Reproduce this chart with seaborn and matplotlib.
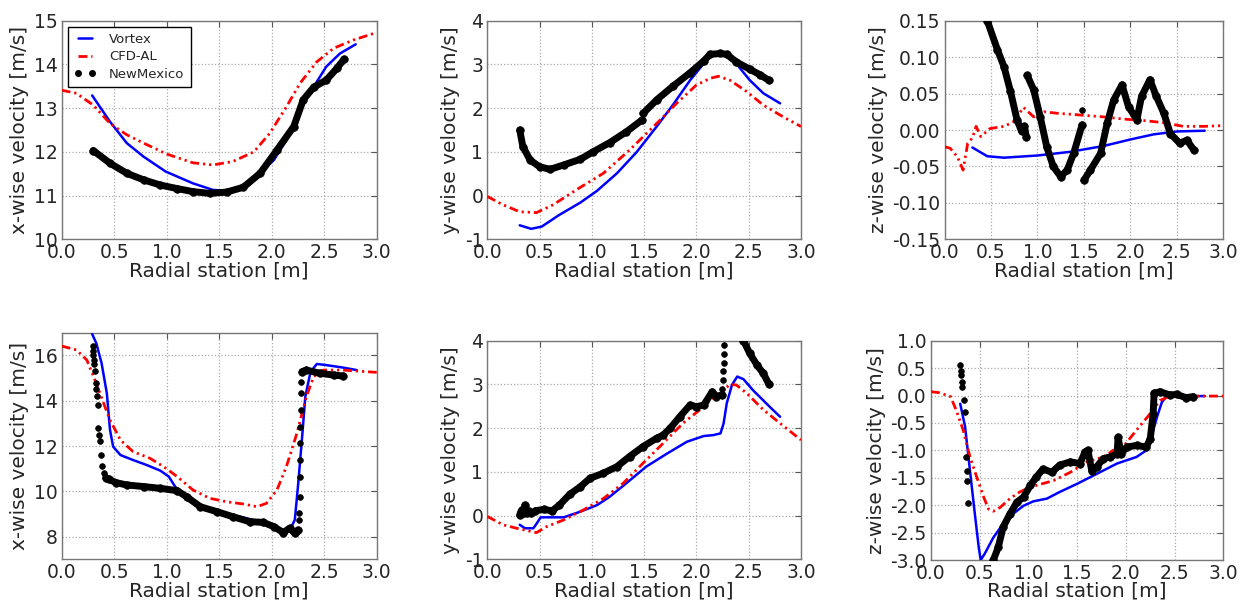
import numpy as np
import pandas as pd
import seaborn as sns
import matplotlib
matplotlib.use("Agg")
import matplotlib.pyplot as plt
from matplotlib.lines import Line2D
from matplotlib.ticker import FormatStrFormatter, MultipleLocator

# ---------------- data ----------------
series_names = ["Vortex", "CFD-AL", "NewMexico"]
xlabel_text = "Radial station [m]"
ylabel_texts = ["x-wise velocity [m/s]", "y-wise velocity [m/s]", "z-wise velocity [m/s]"] * 2

# Panel 1 (top-left)
vx1 = [0.29, 0.46, 0.62, 0.78, 0.99, 1.25, 1.44, 1.57, 1.76, 2.02, 2.14, 2.27, 2.40, 2.52, 2.65, 2.80]
vy1 = [13.29, 12.69, 12.2, 11.89, 11.55, 11.28, 11.13, 11.11, 11.23, 11.81, 12.27, 12.96, 13.49, 13.95, 14.25, 14.46]
cx1 = [0, 0.14, 0.30, 0.46, 0.62, 0.78, 1.0, 1.25, 1.44, 1.63, 1.83, 1.98, 2.14, 2.27, 2.43, 2.59, 2.78, 3.0]
cy1 = [13.41, 13.34, 13.07, 12.65, 12.39, 12.2, 11.95, 11.75, 11.70, 11.78, 12.0, 12.42, 13.03, 13.57, 14.06, 14.37, 14.56, 14.73]
nm1_segs = [
    ([0.30, 0.46, 0.62, 0.78, 0.94, 1.10, 1.25, 1.41, 1.57, 1.73, 1.89, 2.05, 2.21, 2.30, 2.40, 2.52, 2.62, 2.69],
     [12.03, 11.74, 11.51, 11.36, 11.24, 11.16, 11.09, 11.05, 11.08, 11.19, 11.51, 12.04, 12.58, 13.19, 13.48, 13.64, 13.91, 14.12]),
]
nm1_pts = ([], [])

# Panel 2 (top-middle)
vx2 = [0.31, 0.42, 0.52, 0.69, 0.89, 1.05, 1.24, 1.43, 1.62, 1.78, 1.94, 2.07, 2.16, 2.26, 2.38, 2.51, 2.64, 2.80]
vy2 = [-0.68, -0.76, -0.71, -0.44, -0.16, 0.11, 0.51, 1.0, 1.58, 2.09, 2.64, 3.02, 3.23, 3.24, 3.02, 2.64, 2.34, 2.11]
cx2 = [0, 0.15, 0.31, 0.47, 0.63, 0.85, 1.11, 1.36, 1.62, 1.81, 2.0, 2.13, 2.21, 2.32, 2.48, 2.64, 2.83, 3.0]
cy2 = [-0.02, -0.21, -0.37, -0.39, -0.21, 0.13, 0.51, 1.04, 1.65, 2.11, 2.53, 2.68, 2.73, 2.64, 2.38, 2.07, 1.80, 1.58]
nm2_segs = [
    ([0.31, 0.34, 0.41, 0.50, 0.60, 0.73, 0.89, 1.01, 1.17, 1.33, 1.48],
     [1.5, 1.12, 0.81, 0.66, 0.60, 0.70, 0.83, 1.0, 1.21, 1.46, 1.73]),
    ([1.49, 1.62, 1.78, 1.94, 2.07, 2.13, 2.23, 2.29, 2.38, 2.51, 2.61, 2.69],
     [1.88, 2.19, 2.51, 2.81, 3.08, 3.23, 3.25, 3.23, 3.06, 2.89, 2.76, 2.64]),
]
nm2_pts = ([], [])

# Panel 3 (top-right)
vx3 = [0.30, 0.46, 0.64, 1.0, 1.35, 1.71, 2.0, 2.25, 2.50, 2.80]
vy3 = [-0.024, -0.036, -0.038, -0.035, -0.030, -0.022, -0.013, -0.006, -0.002, -0.001]
cx3 = [0, 0.06, 0.14, 0.20, 0.25, 0.30, 0.34, 0.39, 0.49, 0.64, 0.74, 0.85, 0.96, 1.07, 1.21, 1.42, 1.71, 1.93, 2.14, 2.36, 2.57, 2.79, 3.0]
cy3 = [-0.023, -0.025, -0.037, -0.055, -0.018, -0.011, 0.005, -0.009, 0.002, 0.005, 0.011, 0.031, 0.018, 0.025, 0.023, 0.021, 0.018, 0.015, 0.013, 0.010, 0.005, 0.005, 0.006]
nm3_segs = [
    ([0.42, 0.46, 0.57, 0.64, 0.71, 0.78, 0.83, 0.86, 0.88],
     [0.17, 0.15, 0.110, 0.087, 0.053, 0.014, -0.002, 0.005, -0.009]),
    ([0.89, 0.96, 1.03, 1.10, 1.17, 1.25, 1.32, 1.39, 1.48],
     [0.075, 0.055, 0.018, -0.023, -0.050, -0.064, -0.055, -0.032, 0.007]),
    ([1.50, 1.57, 1.68, 1.75, 1.82, 1.91, 1.98, 2.07, 2.12, 2.21, 2.28, 2.36, 2.43, 2.53, 2.61, 2.68],
     [-0.069, -0.055, -0.032, 0.009, 0.041, 0.062, 0.032, 0.014, 0.046, 0.069, 0.046, 0.023, -0.005, -0.018, -0.014, -0.027]),
]
nm3_pts = ([1.48], [0.028])

# Panel 4 (bottom-left)
vx4 = [0.29, 0.33, 0.38, 0.43, 0.46, 0.49, 0.56, 0.68, 0.81, 0.94, 1.02, 1.08, 1.16, 1.32, 1.51, 1.70, 1.89, 2.05, 2.17, 2.22, 2.25, 2.29, 2.32, 2.37, 2.43, 2.52, 2.68, 2.81]
vy4 = [16.94, 16.53, 15.65, 14.32, 12.71, 11.97, 11.6, 11.38, 11.16, 10.91, 10.65, 10.21, 9.84, 9.40, 9.03, 8.88, 8.66, 8.37, 8.26, 8.74, 10.21, 12.41, 14.18, 15.28, 15.62, 15.57, 15.46, 15.35]
cx4 = [0, 0.14, 0.24, 0.33, 0.40, 0.46, 0.56, 0.68, 0.84, 0.97, 1.10, 1.25, 1.41, 1.57, 1.73, 1.86, 1.95, 2.05, 2.14, 2.24, 2.33, 2.40, 2.49, 2.68, 3.0]
cy4 = [16.41, 16.24, 15.79, 14.76, 13.88, 13.15, 12.26, 11.75, 11.46, 11.09, 10.65, 10.06, 9.69, 9.54, 9.44, 9.32, 9.47, 10.06, 11.09, 12.56, 14.18, 15.06, 15.35, 15.35, 15.25]
nm4_segs = [
    ([0.42, 0.45, 0.52, 0.62, 0.78, 0.94, 1.10, 1.19, 1.32, 1.48, 1.63, 1.79, 1.92, 2.02, 2.11, 2.17, 2.22, 2.25],
     [10.6, 10.53, 10.38, 10.28, 10.21, 10.13, 10.03, 9.76, 9.32, 9.10, 8.88, 8.66, 8.63, 8.44, 8.18, 8.37, 8.15, 8.29]),
    ([2.29, 2.33, 2.46, 2.59, 2.68],
     [15.28, 15.35, 15.21, 15.13, 15.09]),
]
nm4_pts = ([0.30, 0.30, 0.30, 0.305, 0.31, 0.315, 0.33, 0.33, 0.34, 0.345, 0.35, 0.355, 0.36, 0.37, 0.385, 0.40,
            2.26, 2.26, 2.265, 2.27, 2.27, 2.27, 2.27, 2.275, 2.28, 2.28],
           [16.4, 16.2, 16.0, 15.8, 15.6, 15.3, 14.8, 14.5, 14.2, 13.8, 12.8, 12.5, 12.2, 11.6, 11.1, 10.8,
            8.74, 9.03, 9.76, 10.65, 11.38, 12.12, 12.85, 13.59, 14.32, 14.84])

# Panel 5 (bottom-middle)
vx5 = [0.31, 0.36, 0.44, 0.47, 0.51, 0.60, 0.73, 0.89, 1.05, 1.17, 1.33, 1.52, 1.72, 1.91, 2.07, 2.16, 2.23, 2.26, 2.29, 2.34, 2.39, 2.45, 2.54, 2.70, 2.80]
vy5 = [-0.21, -0.29, -0.29, -0.19, -0.04, -0.04, -0.04, 0.09, 0.24, 0.43, 0.74, 1.12, 1.42, 1.69, 1.82, 1.84, 1.88, 2.11, 2.57, 2.99, 3.18, 3.12, 2.87, 2.49, 2.26]
cx5 = [0, 0.15, 0.28, 0.47, 0.57, 0.73, 0.92, 1.11, 1.30, 1.49, 1.68, 1.87, 2.07, 2.19, 2.32, 2.38, 2.48, 2.64, 2.80, 3.0]
cy5 = [-0.02, -0.21, -0.29, -0.39, -0.25, -0.10, 0.13, 0.39, 0.74, 1.2, 1.65, 2.11, 2.49, 2.76, 2.99, 2.99, 2.80, 2.42, 2.11, 1.73]
nm5_segs = [
    ([0.31, 0.32, 0.33, 0.35, 0.36, 0.37, 0.38, 0.40, 0.42],
     [0.01, 0.08, 0.13, 0.05, 0.24, 0.12, 0.07, 0.10, 0.07]),
    ([0.46, 0.54, 0.62, 0.69, 0.79, 0.89, 0.98, 1.11, 1.24, 1.36, 1.49, 1.62, 1.68, 1.75, 1.84, 1.94, 2.0, 2.07, 2.15, 2.19, 2.24],
     [0.11, 0.14, 0.11, 0.24, 0.49, 0.66, 0.85, 0.97, 1.12, 1.35, 1.58, 1.77, 1.84, 2.0, 2.26, 2.53, 2.49, 2.53, 2.83, 2.72, 2.76]),
    ([2.40, 2.45, 2.51, 2.58, 2.64, 2.69],
     [4.25, 4.0, 3.71, 3.44, 3.25, 3.02]),
]
nm5_pts = ([2.245, 2.25, 2.255, 2.26, 2.262, 2.265], [2.9, 3.1, 3.3, 3.5, 3.7, 3.9])

# Panel 6 (bottom-right)
vx6 = [0.30, 0.35, 0.40, 0.45, 0.49, 0.51, 0.55, 0.64, 0.74, 0.84, 0.95, 1.05, 1.19, 1.32, 1.50, 1.70, 1.91, 2.11, 2.21, 2.26, 2.32, 2.37, 2.42, 2.62, 2.81]
vy6 = [-0.15, -0.57, -1.37, -2.16, -2.77, -3.0, -2.89, -2.59, -2.34, -2.16, -2.01, -1.93, -1.88, -1.76, -1.61, -1.43, -1.24, -1.12, -1.0, -0.76, -0.39, -0.12, -0.01, -0.01, -0.01]
cx6 = [0, 0.09, 0.20, 0.26, 0.33, 0.40, 0.47, 0.54, 0.59, 0.64, 0.71, 0.81, 0.91, 1.02, 1.12, 1.26, 1.43, 1.60, 1.77, 1.87, 1.97, 2.11, 2.25, 2.35, 2.45, 3.0]
cy6 = [0.07, 0.05, -0.02, -0.27, -0.63, -1.12, -1.49, -1.85, -2.07, -2.11, -2.04, -1.88, -1.76, -1.67, -1.62, -1.55, -1.40, -1.21, -1.12, -1.0, -0.94, -0.63, -0.33, -0.09, -0.01, -0.01]
nm6_segs = [
    ([0.60, 0.64, 0.69, 0.74, 0.81, 0.88, 0.95, 1.02, 1.08, 1.15, 1.24, 1.32, 1.43, 1.53, 1.58, 1.61, 1.65, 1.70, 1.77, 1.84, 1.91, 1.92, 1.95, 2.01, 2.11, 2.21, 2.25, 2.28, 2.29, 2.35, 2.45, 2.52, 2.62, 2.69],
     [-3.4, -3.0, -2.77, -2.40, -2.16, -1.95, -1.85, -1.64, -1.49, -1.34, -1.40, -1.27, -1.21, -1.24, -1.03, -1.0, -1.37, -1.30, -1.15, -1.12, -1.06, -0.76, -1.06, -0.94, -0.91, -0.94, -0.79, -0.33, 0.04, 0.07, 0.01, 0.02, -0.04, -0.02]),
]
nm6_pts = ([0.30, 0.305, 0.31, 0.315, 0.32, 0.34, 0.35, 0.36, 0.37, 0.37, 0.375],
           [0.55, 0.45, 0.37, 0.25, 0.16, -0.09, -0.30, -1.12, -1.37, -1.55, -1.96])

panels = [
    (vx1, vy1, cx1, cy1, nm1_segs, nm1_pts),
    (vx2, vy2, cx2, cy2, nm2_segs, nm2_pts),
    (vx3, vy3, cx3, cy3, nm3_segs, nm3_pts),
    (vx4, vy4, cx4, cy4, nm4_segs, nm4_pts),
    (vx5, vy5, cx5, cy5, nm5_segs, nm5_pts),
    (vx6, vy6, cx6, cy6, nm6_segs, nm6_pts),
]
ylims = [(10, 15), (-1, 4), (-0.15, 0.15), (7, 17), (-1, 4), (-3, 1)]
ysteps = [1, 1, 0.05, 2, 1, 0.5]
yfmts = ["%d", "%d", "%.2f", "%d", "%d", "%.1f"]

# ---------------- style ----------------
sns.set_style("white")
plt.rcParams["font.family"] = ["DejaVu Sans"]
plt.rcParams["axes.unicode_minus"] = True

W, H = 1252, 608
fig = plt.figure(figsize=(W / 100, H / 100), dpi=100)
fig.patch.set_facecolor("white")

# axes boxes in pixels: left, top, right, bottom
boxes = [
    (61.7, 20.7, 376.7, 239.3),
    (487.3, 20.7, 801.0, 239.3),
    (944.5, 20.7, 1223.3, 239.3),
    (61.7, 332.7, 376.7, 559.3),
    (487.3, 340.7, 801.0, 559.3),
    (931.0, 340.7, 1223.3, 560.0),
]

blue = "#0000ff"
red = "#ff0000"
dashdotdot = (0, (3.2, 1.4, 0.8, 1.4, 0.8, 1.4))

for i, (box, pdata) in enumerate(zip(boxes, panels)):
    l, t, r, b = box
    ax = fig.add_axes([l / W, 1 - b / H, (r - l) / W, (b - t) / H])
    vx, vy, cx, cy, segs, pts = pdata

    sns.lineplot(x=vx, y=vy, ax=ax, color=blue, linewidth=1.8, sort=False,
                 estimator=None, zorder=3)
    sns.lineplot(x=cx, y=cy, ax=ax, color=red, linewidth=2.0, sort=False,
                 estimator=None, linestyle=dashdotdot, zorder=3)
    rows = []
    for k, (sx, sy) in enumerate(segs):
        for xx, yy in zip(sx, sy):
            rows.append((k, xx, yy))
    seg_df = pd.DataFrame(rows, columns=["seg", "x", "y"])
    sns.lineplot(data=seg_df, x="x", y="y", units="seg", estimator=None, sort=False,
                 ax=ax, color="k", linewidth=5.0, zorder=4,
                 solid_capstyle="round", solid_joinstyle="round")
    sns.scatterplot(data=seg_df, x="x", y="y", ax=ax, color="k", s=30,
                    edgecolor="k", linewidth=0.5, zorder=4)
    if len(pts[0]):
        sns.scatterplot(x=pts[0], y=pts[1], ax=ax, color="k", s=17,
                        edgecolor="k", linewidth=0.5, zorder=4)

    ax.set_xlim(0, 3)
    ax.set_ylim(*ylims[i])
    ax.xaxis.set_major_locator(MultipleLocator(0.5))
    ax.yaxis.set_major_locator(MultipleLocator(ysteps[i]))
    ax.xaxis.set_major_formatter(FormatStrFormatter("%.1f"))
    ax.yaxis.set_major_formatter(FormatStrFormatter(yfmts[i]))
    ax.tick_params(labelsize=13.5, direction="in", length=4, width=0.8,
                   top=True, right=True, color="#555555", pad=3)
    ax.grid(True, color="#aaaaaa", linestyle=":", linewidth=0.9)
    for sp in ax.spines.values():
        sp.set_color("#777777")
        sp.set_linewidth(1.0)
    ax.set_xlabel(xlabel_text, fontsize=14.5, labelpad=-1)
    ax.set_ylabel(ylabel_texts[i], fontsize=14.5, labelpad=3)

    if i == 0:
        handles = [
            Line2D([], [], color=blue, linewidth=1.8),
            Line2D([], [], color=red, linewidth=2.0, linestyle=dashdotdot),
            Line2D([], [], color="k", marker="o", linestyle="none", markersize=4),
        ]
        leg = ax.legend(handles, series_names, loc="upper left", numpoints=2,
                        fancybox=False, framealpha=1, edgecolor="k", fontsize=9.5,
                        borderaxespad=0.45, handlelength=1.7, labelspacing=0.35,
                        borderpad=0.45, handletextpad=1.0)
        leg.get_frame().set_linewidth(1.0)
        leg.set_zorder(10)

fig.savefig("out.png", dpi=100, facecolor="white")
